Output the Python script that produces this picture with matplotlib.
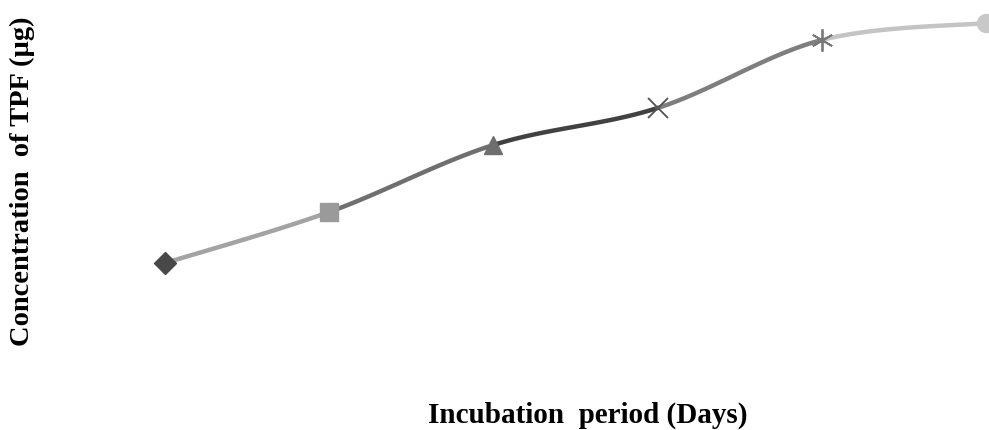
import numpy as np
import matplotlib
matplotlib.use("Agg")
import matplotlib.pyplot as plt

# data (y axis has no ticks, arbitrary units)
days = [1, 2, 3, 4, 5, 6]
tpf = [167, 218, 285, 322, 390, 407]
markers = ["D", "s", "^", "x", "*", "o"]
point_colors = ["#484848", "#9a9a9a", "#6e6e6e", "#505050", "#777777", "#c8c8c8"]
seg_colors = ["#a3a3a3", "#6f6f6f", "#414141", "#7e7e7e", "#c4c4c4"]


def smooth_segment(i, n=40):
    # Excel-style smoothed line: Bezier with Catmull-Rom control points
    p = np.column_stack([days, tpf]).astype(float)
    p0 = p[max(i - 1, 0)]
    p1 = p[i]
    p2 = p[i + 1]
    p3 = p[min(i + 2, len(p) - 1)]
    c1 = p1 + (p2 - p0) / 6.0
    c2 = p2 - (p3 - p1) / 6.0
    t = np.linspace(0, 1, n)[:, None]
    b = ((1 - t) ** 3) * p1 + 3 * ((1 - t) ** 2) * t * c1 + 3 * (1 - t) * t ** 2 * c2 + t ** 3 * p2
    return b[:, 0], b[:, 1]


fig = plt.figure(figsize=(9.89, 4.31), dpi=100)
ax = fig.add_axes([0, 0, 1, 1])
ax.set_xlim(1 - 165 / 164.2, 6 + 3 / 164.2)
ax.set_ylim(0, 431)
ax.axis("off")

for i in range(len(days) - 1):
    xs, ys = smooth_segment(i)
    ax.plot(xs, ys, color=seg_colors[i], lw=3.2, solid_capstyle="round", zorder=2)

for x, y, m, c in zip(days, tpf, markers, point_colors):
    if m == "x":
        ax.plot(x, y, marker=m, ms=14, mew=1.3, color=c, zorder=3)
    elif m == "*":
        ax.plot(x, y, marker=(6, 2, 0), ms=16, mew=1.3, color=c, zorder=3)
    else:
        ms = {"D": 11, "s": 13, "^": 13, "o": 13}[m]
        ax.plot(x, y, marker=m, ms=ms, color=c, mec=c, zorder=3)

serif = ["Liberation Serif", "DejaVu Serif"]
fig.text(588 / 989, 1 - 415 / 431, "Incubation  period (Days)", ha="center", va="center",
         fontsize=21, fontweight="bold", family=serif)
fig.text(22 / 989, 1 - 181 / 431, "Concentration  of TPF (\u00b5g)", ha="center", va="center",
         rotation=90, fontsize=20.5, fontweight="bold", family=serif)

fig.savefig("out.png", dpi=100)
